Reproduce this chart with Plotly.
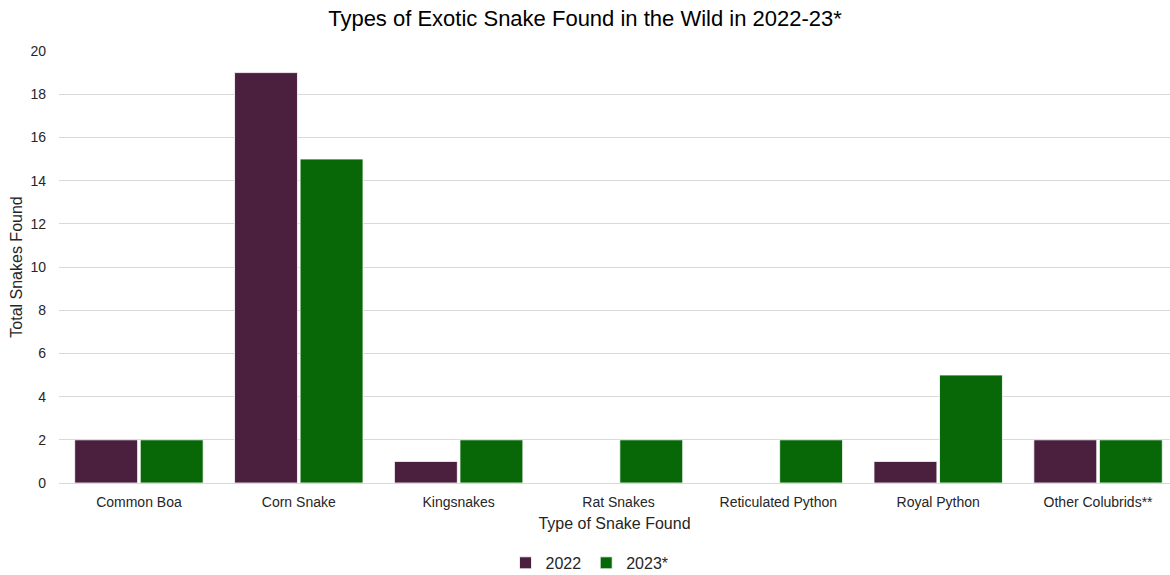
import plotly.graph_objects as go

categories = ["Common Boa", "Corn Snake", "Kingsnakes", "Rat Snakes",
              "Reticulated Python", "Royal Python", "Other Colubrids**"]
values_2022 = [2, 19, 1, 0, 0, 1, 2]
values_2023 = [2, 15, 2, 2, 2, 5, 2]

font_family = "Liberation Sans, Arial, sans-serif"

fig = go.Figure()
fig.add_trace(go.Bar(name="2022", x=categories, y=values_2022,
                     marker=dict(color="#4B1F3E", line=dict(color="white", width=0.8))))
fig.add_trace(go.Bar(name="2023*", x=categories, y=values_2023,
                     marker=dict(color="#086808", line=dict(color="white", width=0.8))))

fig.update_layout(
    width=1170, height=575,
    margin=dict(l=59, r=0, t=51, b=92, autoexpand=False),
    paper_bgcolor="white", plot_bgcolor="white",
    font=dict(family=font_family, color="#404040", size=14),
    title=dict(text="Types of Exotic Snake Found in the Wild in 2022-23*",
               x=0.5, xanchor="center", y=0.968, yanchor="middle",
               font=dict(size=22, color="#000000", family=font_family)),
    barmode="group", bargap=0.18, bargroupgap=0.04,
    legend=dict(orientation="h", x=0.4775, xanchor="center",
                yref="container", y=0.021, yanchor="middle",
                font=dict(size=16, color="#262626"), itemwidth=30,
                traceorder="normal"),
    showlegend=True,
)
fig.update_xaxes(
    range=[-0.5, 6.45], automargin=False,
    title=dict(text="Type of Snake Found", font=dict(size=16, color="#262626"), standoff=8),
    tickfont=dict(size=14, color="#262626"),
    showgrid=False, showline=False, ticks="", ticklabelstandoff=9,
)
fig.update_yaxes(
    range=[0, 20], dtick=2, automargin=False,
    title=dict(text="Total Snakes Found", font=dict(size=16, color="#262626"), standoff=3),
    tickfont=dict(size=14, color="#262626"),
    showgrid=True, gridcolor="#D9D9D9", gridwidth=1,
    zeroline=True, zerolinecolor="#D9D9D9", zerolinewidth=1,
    showline=False, ticks="", ticklabelstandoff=12,
)

fig.write_html("out.html")
